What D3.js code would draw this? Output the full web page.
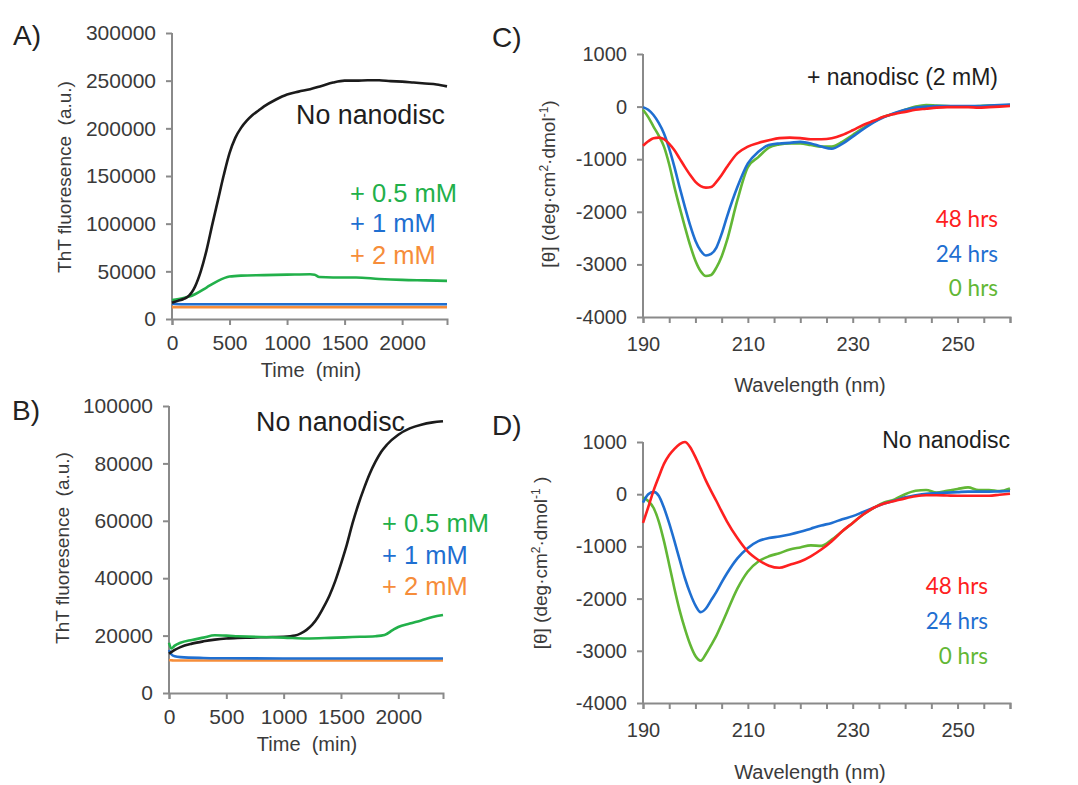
<!DOCTYPE html>
<html><head><meta charset="utf-8">
<script src="https://cdn.jsdelivr.net/npm/d3@7"></script>
<style>
html,body{margin:0;padding:0;background:#fff;}
svg{display:block;font-family:"Liberation Sans",Arial,sans-serif;}
text{white-space:pre;}
</style></head>
<body>
<svg id="fig" width="1078" height="785"></svg>
<script>
// ---------- Panel A data (ThT, time in min) ----------
const timeA_black = [0,50,100,125,150,175,200,250,300,350,400,450,500,550,600,650,700,750,800,900,1000,1100,1200,1300,1400,1500,1600,1700,1800,1900,2000,2100,2200,2300,2390];
const valA_black  = [17000,19000,21000,22500,24800,28500,34000,50000,72000,99000,125000,151000,174000,190000,200500,208000,214000,218500,223000,230000,235500,238500,241000,244500,248000,250000,250000,250500,250500,249500,249000,248000,247000,246000,244000];
const timeA_green = [0,100,150,200,300,400,500,600,800,1000,1200,1240,1280,1400,1600,1800,2000,2200,2390];
const valA_green  = [20000,22000,23500,26000,33000,40000,44500,45500,46000,46500,47000,46500,44000,43500,43500,42000,41000,40500,40000];
const timeA_flat  = [0,100,500,1000,1500,2000,2390];
const valA_blue   = [16000,15500,15500,15500,15500,15500,15500];
const valA_orange = [12500,12500,12500,12500,12500,12500,12500];
const ticksA_y = [0,50000,100000,150000,200000,250000,300000];
const ticksAB_x = [0,500,1000,1500,2000];

// ---------- Panel B data ----------
const timeB_black = [0,50,100,200,300,400,500,600,700,800,900,1000,1100,1150,1200,1250,1300,1350,1400,1450,1500,1550,1600,1650,1700,1750,1800,1850,1900,2000,2100,2200,2300,2390];
const valB_black  = [13700,15000,16000,17200,18000,18600,19000,19200,19300,19400,19500,19600,20000,20800,22000,23800,26500,30000,34000,39000,45000,51500,59000,65500,71200,76300,80500,84000,86500,90000,92200,93500,94300,94700];
const timeB_green = [0,20,50,100,200,300,400,500,600,800,1000,1200,1400,1600,1800,1880,1950,2000,2100,2200,2300,2390];
const valB_green  = [17500,15500,16500,17500,18500,19300,20100,20000,19800,19500,19300,19000,19200,19500,19800,20200,21900,23000,24200,25300,26500,27200];
const timeB_flat  = [0,20,50,100,300,500,1000,1500,2000,2390];
const valB_blue   = [15000,13500,12800,12500,12200,12100,12000,12000,12000,12000];
const valB_orange = [11500,11400,11300,11300,11300,11300,11300,11300,11300,11300];
const ticksB_y = [0,20000,40000,60000,80000,100000];

// ---------- CD data (wavelength nm, mean residue ellipticity) ----------
const wl = [190,191,192,193,194,195,196,197,198,199,200,201,202,203,204,205,206,208,210,212,214,216,218,220,222,224,226,228,230,232,234,236,238,240,242,244,246,248,250,252,254,256,258,260];
const C_0h  = [-60,-200,-380,-550,-760,-1100,-1530,-1920,-2290,-2640,-2930,-3130,-3220,-3200,-3060,-2850,-2550,-1780,-1150,-960,-780,-720,-700,-700,-730,-760,-760,-670,-540,-410,-290,-190,-130,-60,0,30,20,10,0,0,10,20,20,30];
const C_24h = [-10,-60,-160,-310,-510,-800,-1150,-1540,-1910,-2260,-2550,-2740,-2830,-2800,-2680,-2420,-2100,-1530,-1080,-860,-730,-700,-690,-670,-700,-760,-800,-710,-570,-430,-300,-200,-120,-60,-20,0,10,10,10,10,10,20,30,40];
const C_48h = [-745,-660,-600,-590,-620,-710,-830,-990,-1150,-1300,-1430,-1510,-1540,-1530,-1430,-1300,-1150,-890,-760,-690,-640,-600,-590,-600,-620,-620,-600,-540,-450,-350,-270,-190,-140,-100,-60,-40,-20,-10,-10,-10,-20,-10,0,10];
const D_0h  = [-60,-130,-260,-520,-900,-1350,-1810,-2230,-2580,-2880,-3100,-3190,-3060,-2890,-2710,-2490,-2260,-1810,-1480,-1290,-1190,-1130,-1060,-1020,-980,-990,-870,-710,-550,-390,-260,-160,-100,0,65,80,30,65,100,130,80,80,60,110];
const D_24h = [-160,0,45,-30,-260,-560,-900,-1260,-1610,-1900,-2130,-2260,-2190,-2030,-1870,-1690,-1520,-1230,-1030,-900,-840,-810,-770,-720,-660,-600,-550,-480,-420,-340,-260,-180,-120,-60,-20,10,20,30,40,50,50,50,55,60];
const D_48h = [-550,-250,65,330,580,750,870,960,1000,900,710,490,260,60,-130,-330,-520,-840,-1100,-1260,-1370,-1410,-1350,-1290,-1190,-1060,-900,-710,-550,-390,-260,-180,-130,-80,-40,-20,-20,-25,-30,-30,-30,-30,-10,10];
const ticksCD_y = [1000,0,-1000,-2000,-3000,-4000];
const ticksCD_xMinor = [190,195,200,205,210,215,220,225,230,235,240,245,250,255,260];
const ticksCD_xLabel = [190,210,230,250];

const legendAB = ["+ 0.5 mM","+ 1 mM","+ 2 mM"];
const legendCD = ["48 hrs","24 hrs","0 hrs"];

// ---------- styling ----------
const COL = {black:"#1b1b1b", greenAB:"#22b04a", blue:"#1f6fd1", orange:"#f68d3a", red:"#fe2020", greenCD:"#62b735"};
const AXIS = "#8a8a8a", TXT = "#3a3a3a";
const svg = d3.select("#fig");

function txt(x,y,s,opt={}){
  const t = svg.append("text").attr("x",x).attr("y",y).text(s)
    .attr("font-size",opt.size||20).attr("fill",opt.fill||TXT)
    .attr("text-anchor",opt.anchor||"start");
  if(opt.family) t.attr("font-family",opt.family);
  return t;
}

function styleAxis(g,size){
  g.selectAll(".domain").attr("stroke",AXIS).attr("stroke-width",2);
  g.selectAll(".tick line").attr("stroke",AXIS).attr("stroke-width",2);
  g.selectAll(".tick text").attr("fill",TXT).attr("font-size",size)
    .attr("font-family","Liberation Sans, Arial, sans-serif");
}

function panel(cfg){
  const x = d3.scaleLinear().domain(cfg.xd).range(cfg.xr);
  const y = d3.scaleLinear().domain(cfg.yd).range(cfg.yr);
  const gx = svg.append("g").attr("transform",`translate(0,${cfg.yr[0]})`)
    .call(d3.axisBottom(x).tickValues(cfg.xticks).tickSizeOuter(0).tickSize(6).tickPadding(cfg.xpad||10)
      .tickFormat(cfg.xfmt || (d=>d)));
  styleAxis(gx,cfg.fs||20);
  const gy = svg.append("g").attr("transform",`translate(${cfg.xr[0]},0)`)
    .call(d3.axisLeft(y).tickValues(cfg.yticks).tickSizeOuter(0).tickSize(6).tickPadding(10)
      .tickFormat(d=>d3.format("d")(d).replace("−","-")));
  styleAxis(gy,cfg.fs||20);
  gy.select(".domain").attr("d",`M0,${cfg.yr[0]}V${cfg.yr[1]}`);
  cfg.series.forEach(s=>{
    const pts = s.x.map((v,i)=>[v,s.y[i]]);
    svg.append("path").datum(pts)
      .attr("fill","none").attr("stroke",s.color).attr("stroke-width",2.6)
      .attr("stroke-linejoin","round")
      .attr("d",d3.line().x(d=>x(d[0])).y(d=>y(d[1])).curve(d3.curveMonotoneX));
  });
  return {x,y};
}

// Panel A
panel({xd:[0,2390], xr:[172,447], yd:[0,300000], yr:[319,33], xticks:ticksAB_x, yticks:ticksA_y, fs:21,
  series:[
    {x:timeA_flat, y:valA_orange, color:COL.orange},
    {x:timeA_flat, y:valA_blue, color:COL.blue},
    {x:timeA_green, y:valA_green, color:COL.greenAB},
    {x:timeA_black, y:valA_black, color:COL.black}
  ]});

// Panel B
panel({xd:[0,2390], xr:[169,443], yd:[0,100000], yr:[693,406], xticks:ticksAB_x, yticks:ticksB_y, fs:21,
  series:[
    {x:timeB_flat, y:valB_orange, color:COL.orange},
    {x:timeB_flat, y:valB_blue, color:COL.blue},
    {x:timeB_black, y:valB_black, color:COL.black},
    {x:timeB_green, y:valB_green, color:COL.greenAB}
  ]});

// Panel C
const cdFmt = d => ticksCD_xLabel.includes(d) ? d : "";
panel({xd:[190,260], xr:[643,1010], yd:[-4000,1000], yr:[317,54], xticks:ticksCD_xMinor, xfmt:cdFmt, xpad:14, yticks:ticksCD_y, fs:20,
  series:[
    {x:wl, y:C_0h, color:COL.greenCD},
    {x:wl, y:C_24h, color:COL.blue},
    {x:wl, y:C_48h, color:COL.red}
  ]});

// Panel D
panel({xd:[190,260], xr:[643,1010], yd:[-4000,1000], yr:[703,442], xticks:ticksCD_xMinor, xfmt:cdFmt, xpad:14, yticks:ticksCD_y, fs:20,
  series:[
    {x:wl, y:D_0h, color:COL.greenCD},
    {x:wl, y:D_24h, color:COL.blue},
    {x:wl, y:D_48h, color:COL.red}
  ]});

// ---------- panel letters ----------
txt(13,45,"A)",{size:28,fill:"#222"});
txt(12,420,"B)",{size:28,fill:"#222"});
txt(492,47,"C)",{size:28,fill:"#222"});
txt(492,435,"D)",{size:28,fill:"#222"});

// ---------- axis titles ----------
function ytitle(cx,cy,s,size){
  return svg.append("text").attr("transform",`translate(${cx},${cy}) rotate(-90)`)
    .attr("text-anchor","middle").attr("dy","0.35em").attr("font-size",size).attr("fill",TXT).text(s);
}
ytitle(64,177,"ThT fluoresence  (a.u.)",19);
ytitle(62,548,"ThT fluoresence  (a.u.)",19);
txt(311,377,"Time  (min)",{size:20,anchor:"middle"});
txt(307,751,"Time  (min)",{size:20,anchor:"middle"});
txt(810,392,"Wavelength (nm)",{size:20,anchor:"middle"});
txt(810,779,"Wavelength (nm)",{size:20,anchor:"middle"});

function cdTitle(cx,cy,closeSpace){
  const t = svg.append("text").attr("transform",`translate(${cx},${cy}) rotate(-90)`)
    .attr("text-anchor","middle").attr("dy","0.35em").attr("font-size",19).attr("fill",TXT);
  t.append("tspan").text("[θ] (deg·cm");
  t.append("tspan").attr("dy",-7).attr("font-size",12).text("2");
  t.append("tspan").attr("dy",7).text("·dmol");
  t.append("tspan").attr("dy",-7).attr("font-size",12).text("-1");
  t.append("tspan").attr("dy",7).text(closeSpace?" )":")");
}
cdTitle(548,184,false);
cdTitle(540,563,true);

// ---------- annotations ----------
txt(445,124,"No nanodisc",{size:26.8,anchor:"end",fill:"#1e1e1e"});
txt(405,431,"No nanodisc",{size:26.8,anchor:"end",fill:"#1e1e1e"});
const colAB = [COL.greenAB, COL.blue, COL.orange];
legendAB.forEach((s,i)=>{
  txt(350,[202,232,264][i],s,{size:25.5,fill:colAB[i]});
  txt(382,[532,564,595][i],s,{size:25.5,fill:colAB[i]});
});
txt(998,85,"+ nanodisc (2 mM)",{size:23,anchor:"end",fill:"#1e1e1e"});
txt(1010,448,"No nanodisc",{size:23,anchor:"end",fill:"#1e1e1e"});
const colCD = [COL.red, COL.blue, COL.greenCD];
legendCD.forEach((s,i)=>{
  txt(998,[227,262,296][i],s,{size:22.5,fill:colCD[i],anchor:"end",family:"Lato, sans-serif"});
  txt(988,[594,629,664][i],s,{size:22.5,fill:colCD[i],anchor:"end",family:"Lato, sans-serif"});
});
</script>
</body></html>
